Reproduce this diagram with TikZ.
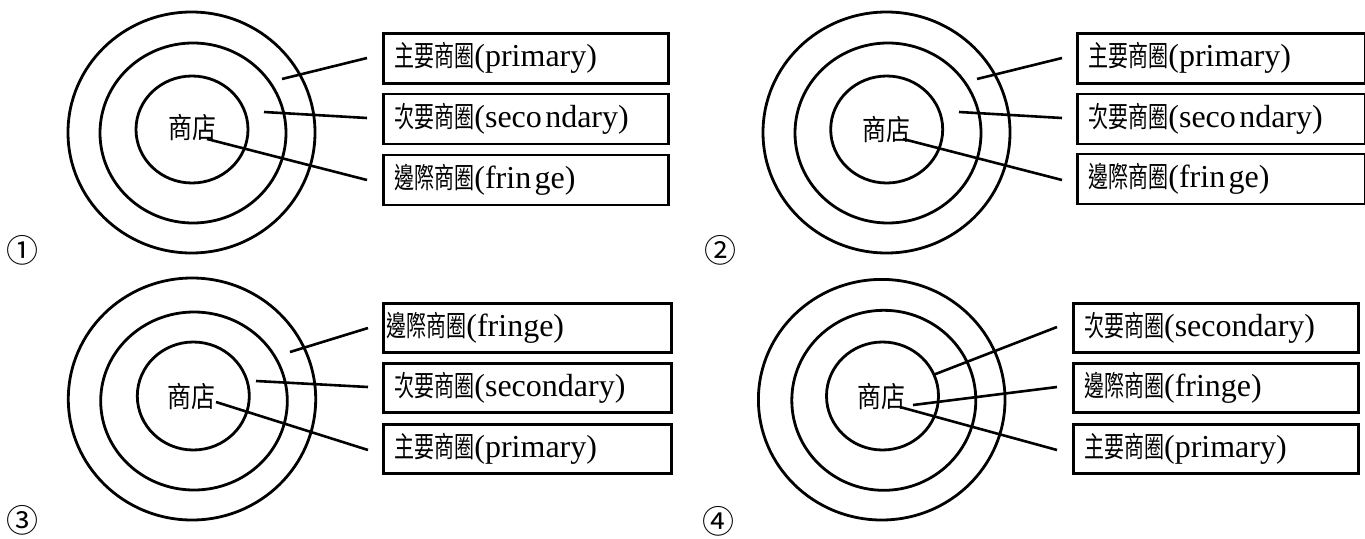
\documentclass[tikz,border=0pt]{standalone}
\usepackage{fontspec}
\usepackage{graphicx}
\setmainfont{Liberation Serif}
\newfontfamily\cjkfont{Noto Sans CJK TC}
\newcommand\cjtext[1]{\scalebox{0.8}[1.15]{\cjkfont\fontsize{25}{27}\selectfont #1}}
\newcommand\storetext[1]{\scalebox{0.96}[1.15]{\cjkfont\fontsize{25}{27}\selectfont #1}}
\newcommand\lbl[2]{\cjtext{#1}{\fontsize{32}{34}\selectfont #2}}
\tikzset{
  ring/.style={line width=2.8pt},
  lbox/.style={draw, line width=2.8pt, rectangle, inner xsep=11pt, inner ysep=0pt,
                align=left, anchor=west},
  conn/.style={line width=2.6pt},
  store/.style={inner sep=0pt},
  num/.style={font=\cjkfont\fontsize{32}{34}\selectfont, inner sep=0pt}
}
\begin{document}
\begin{tikzpicture}[x=1pt,y=-1pt]
\useasboundingbox[fill=white] (0,0) rectangle (1365,538);

% ---------------- Panel 1 ----------------
\draw[ring] (191.5,132.5) ellipse [x radius=123.5pt, y radius=120.5pt];
\draw[ring] (193,133) ellipse [x radius=93pt, y radius=90pt];
\draw[ring] (192,129.5) ellipse [x radius=56pt, y radius=53.5pt];
\node[store] (s1) at (192,128) {\storetext{商店}};
\node[lbox, text width=263pt, minimum height=50pt] (b11) at (382,58.3) {\lbl{主要商圈}{(primary)}};
\node[lbox, text width=263pt, minimum height=50pt] (b12) at (382,119) {\lbl{次要商圈}{(seco ndary)}};
\node[lbox, text width=263pt, minimum height=50pt] (b13) at (382,180) {\lbl{邊際商圈}{(frin ge)}};
\coordinate (a11) at (282,79);  \coordinate (z11) at (367,58);
\coordinate (a12) at (264,112); \coordinate (z12) at (367,118);
\coordinate (a13) at (207,139); \coordinate (z13) at (367,180);
\draw[conn] (a11) -- (z11);
\draw[conn] (a12) -- (z12);
\draw[conn] (a13) -- (z13);
\node[num] (n1) at (22,250) {①};

% ---------------- Panel 2 ----------------
\draw[ring] (886.5,132.5) ellipse [x radius=123.5pt, y radius=120.5pt];
\draw[ring] (888,133) ellipse [x radius=93pt, y radius=90pt];
\draw[ring] (886.7,129.5) ellipse [x radius=56pt, y radius=53.5pt];
\node[store] (s2) at (886.7,130) {\storetext{商店}};
\node[lbox, text width=265.5pt, minimum height=50pt] (b21) at (1076,58.3) {\lbl{主要商圈}{(primary)}};
\node[lbox, text width=265.5pt, minimum height=50pt] (b22) at (1076,119) {\lbl{次要商圈}{(seco ndary)}};
\node[lbox, text width=265.5pt, minimum height=50pt] (b23) at (1076,179) {\lbl{邊際商圈}{(frin ge)}};
\coordinate (a21) at (977,79);  \coordinate (z21) at (1062,58);
\coordinate (a22) at (959,112); \coordinate (z22) at (1062,118);
\coordinate (a23) at (903,139); \coordinate (z23) at (1062,180);
\draw[conn] (a21) -- (z21);
\draw[conn] (a22) -- (z22);
\draw[conn] (a23) -- (z23);
\node[num] (n2) at (720,250) {②};

% ---------------- Panel 3 ----------------
\draw[ring] (192,399) ellipse [x radius=123.7pt, y radius=121pt];
\draw[ring] (194,401) ellipse [x radius=93.3pt, y radius=89pt];
\draw[ring] (193.3,396) ellipse [x radius=56pt, y radius=54pt];
\node[store] (s3) at (191.7,396.7) {\storetext{商店}};
\node[lbox, inner xsep=3pt, text width=282pt, minimum height=49pt] (b31) at (382,328.2) {\lbl{邊際商圈}{(fringe)}};
\node[lbox, text width=266pt, minimum height=49pt] (b32) at (382,388.3) {\lbl{次要商圈}{(secondary)}};
\node[lbox, text width=266pt, minimum height=49pt] (b33) at (382,448.7) {\lbl{主要商圈}{(primary)}};
\coordinate (a31) at (290,352); \coordinate (z31) at (368,328);
\coordinate (a32) at (256,381); \coordinate (z32) at (368,387);
\coordinate (a33) at (216,402); \coordinate (z33) at (368,450);
\draw[conn] (a31) -- (z31);
\draw[conn] (a32) -- (z32);
\draw[conn] (a33) -- (z33);
\node[num] (n3) at (22,520) {③};

% ---------------- Panel 4 ----------------
\draw[ring] (881.7,399.7) ellipse [x radius=123.3pt, y radius=120.3pt];
\draw[ring] (883.8,400.3) ellipse [x radius=92pt, y radius=90pt];
\draw[ring] (882.5,396) ellipse [x radius=56pt, y radius=54pt];
\node[store] (s4) at (881.7,396.7) {\storetext{商店}};
\node[lbox, text width=263pt, minimum height=49pt] (b41) at (1071.7,328.2) {\lbl{次要商圈}{(secondary)}};
\node[lbox, text width=263pt, minimum height=49pt] (b42) at (1071.7,388.3) {\lbl{邊際商圈}{(fringe)}};
\node[lbox, text width=263pt, minimum height=49pt] (b43) at (1071.7,448.7) {\lbl{主要商圈}{(primary)}};
\coordinate (a41) at (933,375); \coordinate (z41) at (1057,327);
\coordinate (a42) at (913,405); \coordinate (z42) at (1057,387);
\coordinate (a43) at (900,407); \coordinate (z43) at (1057,450);
\draw[conn] (a41) -- (z41);
\draw[conn] (a42) -- (z42);
\draw[conn] (a43) -- (z43);
\node[num] (n4) at (718,521) {④};
\end{tikzpicture}
\end{document}
